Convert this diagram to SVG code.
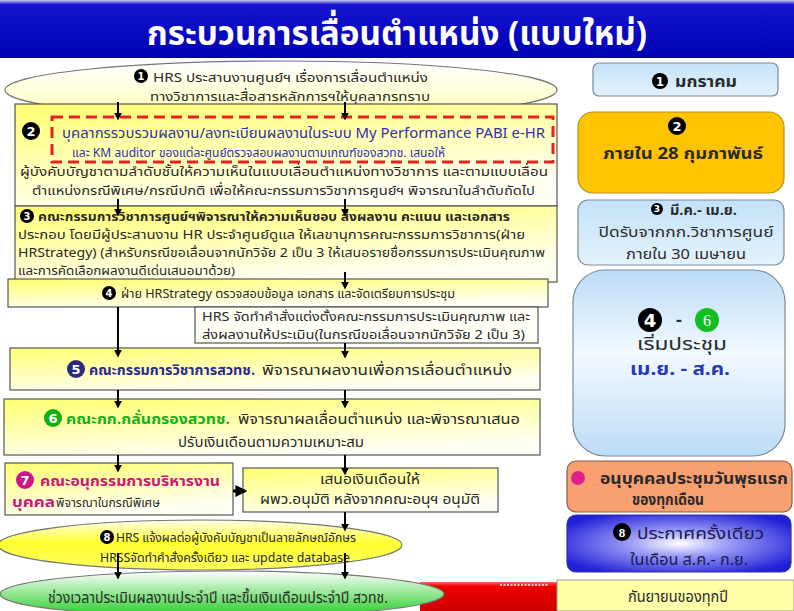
<svg xmlns="http://www.w3.org/2000/svg" width="794" height="611" viewBox="0 0 794 611">
<defs>
<style>
.t{font-family:Tahoma,"Noto Sans Thai","Noto Sans","DejaVu Sans",sans-serif;font-size:13px;fill:#2a2a2a}
.b{font-weight:bold}
.c{text-anchor:middle}
.n{font-family:"DejaVu Sans",sans-serif;font-weight:bold;fill:#fff;text-anchor:middle}
.box{stroke:#555;stroke-width:1.2}
.arr{stroke:#000;stroke-width:2;fill:none;marker-end:url(#ah)}
</style>
<marker id="ah" viewBox="0 0 10 10" refX="8" refY="5" markerWidth="4" markerHeight="4" orient="auto"><path d="M0,0 L10,5 L0,10 z" fill="#000"/></marker>
<linearGradient id="titleG" x1="0" y1="0" x2="0" y2="1"><stop offset="0" stop-color="#c8cce8"/><stop offset="0.08" stop-color="#1414d0"/><stop offset="1" stop-color="#0000b4"/></linearGradient>
<linearGradient id="yg" x1="0" y1="0" x2="0.4" y2="1"><stop offset="0" stop-color="#ffff70"/><stop offset="1" stop-color="#fffff4"/></linearGradient>
<linearGradient id="e1g" x1="0" y1="0" x2="0" y2="1"><stop offset="0" stop-color="#ffffff"/><stop offset="1" stop-color="#ffffb8"/></linearGradient>
<linearGradient id="e8g" x1="0" y1="0" x2="0" y2="1"><stop offset="0" stop-color="#ffffe8"/><stop offset="0.45" stop-color="#ffff30"/><stop offset="1" stop-color="#ffff60"/></linearGradient>
<linearGradient id="e9g" x1="0" y1="0" x2="0" y2="1"><stop offset="0" stop-color="#ffffff"/><stop offset="1" stop-color="#22cc22"/></linearGradient>
<linearGradient id="lbg" x1="0" y1="0" x2="0" y2="1"><stop offset="0" stop-color="#c4e2f8"/><stop offset="1" stop-color="#e4f2fc"/></linearGradient>
<linearGradient id="r4g" x1="0" y1="0" x2="0" y2="1"><stop offset="0" stop-color="#bcdcf6"/><stop offset="0.45" stop-color="#f2f9ff"/><stop offset="1" stop-color="#bcdcf6"/></linearGradient>
<radialGradient id="r8g" cx="0.5" cy="0.5" r="0.6"><stop offset="0" stop-color="#ffffff"/><stop offset="0.35" stop-color="#a0a0f8"/><stop offset="1" stop-color="#2020d8"/></radialGradient>
<linearGradient id="redg" x1="0" y1="0" x2="0" y2="1"><stop offset="0" stop-color="#ff6060"/><stop offset="0.15" stop-color="#ee0000"/><stop offset="1" stop-color="#cc0000"/></linearGradient>
</defs>

<g id="title">
<rect x="0" y="0" width="794" height="58" fill="url(#titleG)"/>
<text x="397" y="45" class="t b c" style="font-size:34px;fill:#fff" textLength="500" lengthAdjust="spacingAndGlyphs">กระบวนการเลื่อนตำแหน่ง (แบบใหม่)</text>
</g>

<g id="step1">
<ellipse cx="281" cy="90" rx="276" ry="29" fill="url(#e1g)" stroke="#777" stroke-width="1.2"/>
<circle cx="141" cy="76" r="7" fill="#000"/><text x="141" y="80" class="n" style="font-size:10px">1</text>
<text x="153" y="82" class="t" textLength="275" lengthAdjust="spacingAndGlyphs">HRS ประสานงานศูนย์ฯ เรื่องการเลื่อนตำแหน่ง</text>
<text x="150" y="101" class="t" textLength="280" lengthAdjust="spacingAndGlyphs">ทางวิชาการและสื่อสารหลักการฯให้บุคลากรทราบ</text>
</g>

<g id="step2">
<rect x="15" y="104" width="542" height="102" fill="url(#yg)" class="box"/>
<rect x="52" y="117" width="501" height="45" fill="none" stroke="#e82020" stroke-width="3" stroke-dasharray="11 6"/>
<circle cx="31" cy="131" r="9" fill="#000"/><text x="31" y="136" class="n" style="font-size:13px">2</text>
<text x="62" y="138" class="t" style="fill:#3030b0;font-size:13.5px" textLength="483" lengthAdjust="spacingAndGlyphs">บุคลากรรวบรวมผลงาน/ลงทะเบียนผลงานในระบบ My Performance PABI e-HR</text>
<text x="72" y="157" class="t" style="fill:#3030b0;font-size:12px" textLength="373" lengthAdjust="spacingAndGlyphs">และ KM auditor ของแต่ละศูนย์ตรวจสอบผลงานตามเกณฑ์ของสวทช. เสนอให้</text>
<text x="20" y="176" class="t" textLength="528" lengthAdjust="spacingAndGlyphs">ผู้บังคับบัญชาตามลำดับชั้นให้ความเห็นในแบบเลื่อนตำแหน่งทางวิชาการ และตามแบบเลื่อน</text>
<text x="32" y="195" class="t" textLength="503" lengthAdjust="spacingAndGlyphs">ตำแหน่งกรณีพิเศษ/กรณีปกติ  เพื่อให้คณะกรรมการวิชาการศูนย์ฯ พิจารณาในลำดับถัดไป</text>
</g>

<g id="step3">
<rect x="15" y="206" width="542" height="76" fill="url(#yg)" class="box"/>
<circle cx="27" cy="216" r="7" fill="#000"/><text x="27" y="220" class="n" style="font-size:10px">3</text>
<text x="38" y="221" class="t b" style="font-size:12.5px" textLength="472" lengthAdjust="spacingAndGlyphs">คณะกรรมการวิชาการศูนย์ฯพิจารณาให้ความเห็นชอบ ส่งผลงาน คะแนน และเอกสาร</text>
<text x="18" y="239" class="t" style="font-size:12px" textLength="507" lengthAdjust="spacingAndGlyphs">ประกอบ โดยมีผู้ประสานงาน HR ประจำศูนย์ดูแล ให้เลขานุการคณะกรรมการวิชาการ(ฝ่าย</text>
<text x="18" y="256.5" class="t" style="font-size:12px" textLength="527" lengthAdjust="spacingAndGlyphs">HRStrategy) (สำหรับกรณีขอเลื่อนจากนักวิจัย 2 เป็น 3 ให้เสนอรายชื่อกรรมการประเมินคุณภาพ</text>
<text x="18" y="275" class="t" style="font-size:11.5px" textLength="217" lengthAdjust="spacingAndGlyphs">และการคัดเลือกผลงานดีเด่นเสนอมาด้วย)</text>
</g>

<g id="step4">
<rect x="8" y="279" width="540" height="28" fill="url(#yg)" class="box"/>
<circle cx="109" cy="293" r="7" fill="#000"/><text x="109" y="297" class="n" style="font-size:10px">4</text>
<text x="121" y="298" class="t" textLength="334" lengthAdjust="spacingAndGlyphs">ฝ่าย HRStrategy ตรวจสอบข้อมูล เอกสาร และจัดเตรียมการประชุม</text>
</g>

<g id="step4b">
<rect x="195" y="307" width="343" height="36" fill="#fffff6" class="box"/>
<text x="202" y="321" class="t" style="font-size:12.5px" textLength="328" lengthAdjust="spacingAndGlyphs">HRS จัดทำคำสั่งแต่งตั้งคณะกรรมการประเมินคุณภาพ และ</text>
<text x="202" y="339" class="t" style="font-size:12.5px" textLength="323" lengthAdjust="spacingAndGlyphs">ส่งผลงานให้ประเมิน(ในกรณีขอเลื่อนจากนักวิจัย 2 เป็น 3)</text>
</g>

<g id="step5">
<rect x="10" y="348" width="530" height="42" fill="url(#yg)" class="box"/>
<circle cx="76" cy="369" r="9" fill="#2a2a80"/><text x="76" y="374" class="n" style="font-size:13px">5</text>
<text x="89" y="375" class="t b" style="fill:#2a2a90;font-size:14px" textLength="166" lengthAdjust="spacingAndGlyphs">คณะกรรมการวิชาการสวทช.</text>
<text x="262" y="375" class="t" style="font-size:14px" textLength="250" lengthAdjust="spacingAndGlyphs">พิจารณาผลงานเพื่อการเลื่อนตำแหน่ง</text>
</g>

<g id="step6">
<rect x="4" y="399" width="536" height="56" fill="url(#yg)" class="box"/>
<circle cx="53" cy="418" r="9" fill="#10b010"/><text x="53" y="423" class="n" style="font-size:13px">6</text>
<text x="66" y="424" class="t b" style="fill:#18b018;font-size:14px" textLength="164" lengthAdjust="spacingAndGlyphs">คณะกก.กลั่นกรองสวทช.</text>
<text x="238" y="424" class="t" style="font-size:14px" textLength="282" lengthAdjust="spacingAndGlyphs">พิจารณาผลเลื่อนตำแหน่ง และพิจารณาเสนอ</text>
<text x="271" y="447" class="t c" style="font-size:14px" textLength="186" lengthAdjust="spacingAndGlyphs">ปรับเงินเดือนตามความเหมาะสม</text>
</g>

<g id="step7">
<rect x="5" y="463" width="228" height="52" fill="url(#yg)" class="box"/>
<circle cx="25" cy="480" r="9" fill="#d0148c"/><text x="25" y="485" class="n" style="font-size:13px">7</text>
<text x="40" y="486" class="t b" style="fill:#d0147c;font-size:14px" textLength="180" lengthAdjust="spacingAndGlyphs">คณะอนุกรรมการบริหารงาน</text>
<text x="12" y="507" class="t b" style="fill:#d0147c;font-size:14px" textLength="43" lengthAdjust="spacingAndGlyphs">บุคคล</text>
<text x="56" y="507" class="t" textLength="104" lengthAdjust="spacingAndGlyphs">พิจารณาในกรณีพิเศษ</text>
</g>

<g id="step7b">
<rect x="243" y="468" width="255" height="44" fill="url(#yg)" class="box"/>
<text x="370" y="484" class="t c" style="font-size:14px" textLength="100" lengthAdjust="spacingAndGlyphs">เสนอเงินเดือนให้</text>
<text x="370" y="504" class="t c" style="font-size:14px" textLength="220" lengthAdjust="spacingAndGlyphs">ผพว.อนุมัติ หลังจากคณะอนุฯ อนุมัติ</text>
</g>

<g id="redbar">
<rect x="420" y="582" width="140" height="29" fill="url(#redg)"/>
<line x1="500" y1="585" x2="548" y2="585" stroke="#fff" stroke-width="1.5" stroke-dasharray="2 1.5"/>
</g>

<g id="step8">
<ellipse cx="200" cy="545" rx="202" ry="25" fill="url(#e8g)" stroke="#777" stroke-width="1.2"/>
<circle cx="107" cy="537" r="7" fill="#000"/><text x="107" y="541" class="n" style="font-size:10px">8</text>
<text x="116" y="542" class="t" style="font-size:12px" textLength="240" lengthAdjust="spacingAndGlyphs">HRS แจ้งผลต่อผู้บังคับบัญชาเป็นลายลักษณ์อักษร</text>
<text x="100" y="562" class="t" style="font-size:12px" textLength="250" lengthAdjust="spacingAndGlyphs">HRSSจัดทำคำสั่งครั้งเดียว และ update database</text>
</g>

<g id="step9">
<ellipse cx="222" cy="594" rx="222" ry="23" fill="url(#e9g)" stroke="#777" stroke-width="1.2"/>
<text x="218" y="603" class="t c" style="font-size:15px" textLength="340" lengthAdjust="spacingAndGlyphs">ช่วงเวลาประเมินผลงานประจำปี และขึ้นเงินเดือนประจำปี สวทช.</text>
</g>

<g id="connectors">
<line x1="118" y1="102" x2="118" y2="119" class="arr"/>
<line x1="345" y1="102" x2="345" y2="119" class="arr"/>
<line x1="118" y1="199" x2="118" y2="215" class="arr"/>
<line x1="345" y1="199" x2="345" y2="215" class="arr"/>
<line x1="345" y1="272" x2="345" y2="288" class="arr"/>
<line x1="118" y1="307" x2="118" y2="356" class="arr"/>
<line x1="345" y1="343" x2="345" y2="357" class="arr"/>
<line x1="118" y1="390" x2="118" y2="407" class="arr"/>
<line x1="345" y1="390" x2="345" y2="407" class="arr"/>
<line x1="118" y1="455" x2="118" y2="471" class="arr"/>
<line x1="345" y1="455" x2="345" y2="474" class="arr"/>
<line x1="233" y1="491" x2="245" y2="491" class="arr" style="stroke-width:3"/>
<line x1="345" y1="512" x2="345" y2="530" class="arr"/>
<line x1="118" y1="553" x2="118" y2="578" class="arr"/>
<line x1="345" y1="553" x2="345" y2="578" class="arr"/>
</g>

<g id="r1">
<rect x="593" y="63" width="185" height="33" rx="6" fill="url(#lbg)" stroke="#7a8a9a" stroke-width="1.2"/>
<circle cx="660" cy="81" r="8" fill="#000"/><text x="660" y="86" class="n" style="font-size:12px">1</text>
<text x="675" y="87" class="t b" style="font-size:15px" textLength="62" lengthAdjust="spacingAndGlyphs">มกราคม</text>
</g>

<g id="r2">
<rect x="578" y="112" width="206" height="81" rx="15" fill="#ffc400" stroke="#b89020" stroke-width="1.2"/>
<circle cx="677" cy="126" r="9" fill="#000"/><text x="677" y="131" class="n" style="font-size:13px">2</text>
<text x="683" y="159" class="t b c" style="font-size:16px" textLength="160" lengthAdjust="spacingAndGlyphs">ภายใน 28 กุมภาพันธ์</text>
</g>

<g id="r3">
<rect x="578" y="200" width="206" height="65" rx="10" fill="url(#lbg)" stroke="#7a8a9a" stroke-width="1.2"/>
<circle cx="657" cy="209" r="6" fill="#000"/><text x="657" y="212" class="n" style="font-size:9px">3</text>
<text x="670" y="215" class="t b" style="font-size:14px" textLength="67" lengthAdjust="spacingAndGlyphs">มี.ค.- เม.ย.</text>
<text x="686" y="237" class="t c" style="font-size:14px" textLength="175" lengthAdjust="spacingAndGlyphs">ปิดรับจากกก.วิชาการศูนย์</text>
<text x="686" y="259" class="t c" style="font-size:14px" textLength="120" lengthAdjust="spacingAndGlyphs">ภายใน 30 เมษายน</text>
</g>

<g id="r4">
<rect x="573" y="270" width="212" height="186" rx="32" fill="url(#r4g)" stroke="#7a8a9a" stroke-width="1.2"/>
<circle cx="650" cy="320" r="12" fill="#000"/><text x="650" y="327" class="n" style="font-size:18px">4</text>
<text x="679" y="326" class="t b c" style="font-size:18px">-</text>
<circle cx="707" cy="320" r="12" fill="#10c020"/><text x="707" y="326" class="n" style="font-size:16px;font-family:'Liberation Serif',serif;font-weight:normal">6</text>
<text x="682" y="350" class="t c" style="font-size:17px" textLength="90" lengthAdjust="spacingAndGlyphs">เริ่มประชุม</text>
<text x="680" y="375" class="t b c" style="font-size:17px;fill:#2838b8" textLength="100" lengthAdjust="spacingAndGlyphs">เม.ย. - ส.ค.</text>
</g>

<g id="r7">
<rect x="567" y="461" width="225" height="51" rx="9" fill="#f8a070" stroke="#806050" stroke-width="1.2"/>
<circle cx="578" cy="478" r="7" fill="#e0208c"/>
<text x="600" y="484" class="t b" style="font-size:15px" textLength="188" lengthAdjust="spacingAndGlyphs">อนุบุคคลประชุมวันพุธแรก</text>
<text x="668" y="505" class="t b c" style="font-size:15px" textLength="72" lengthAdjust="spacingAndGlyphs">ของทุกเดือน</text>
</g>

<g id="r8">
<rect x="567" y="515" width="224" height="57" rx="9" fill="url(#r8g)" stroke="#3030a0" stroke-width="1.2"/>
<circle cx="622" cy="532" r="9" fill="#000"/><text x="622" y="537" class="n" style="font-size:13px;font-family:'Liberation Serif',serif">8</text>
<text x="637" y="539" class="t" style="font-size:16px;fill:#1a1a50" textLength="127" lengthAdjust="spacingAndGlyphs">ประกาศครั้งเดียว</text>
<text x="630" y="565" class="t" style="font-size:16px;fill:#1a1a50" textLength="118" lengthAdjust="spacingAndGlyphs">ในเดือน ส.ค.- ก.ย.</text>
</g>

<g id="sep">
<rect x="557" y="580" width="237" height="31" fill="#ffffa8" stroke="#999" stroke-width="1"/>
<text x="678" y="602" class="t c" style="font-size:16px" textLength="100" lengthAdjust="spacingAndGlyphs">กันยายนของทุกปี</text>
</g>
</svg>
